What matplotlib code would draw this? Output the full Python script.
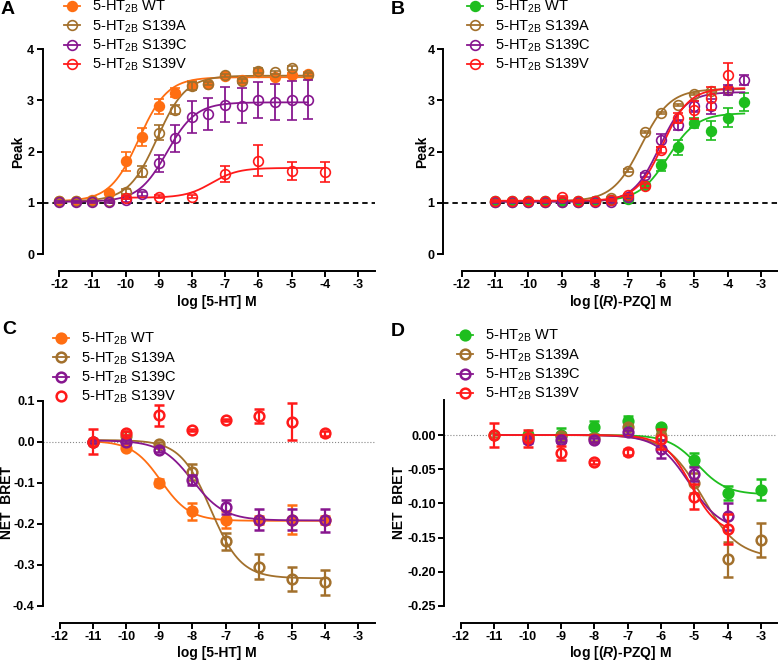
import numpy as np
import matplotlib
matplotlib.use('Agg')
import matplotlib.pyplot as plt
from matplotlib.lines import Line2D
from matplotlib.ticker import FormatStrFormatter

plt.rcParams['font.family'] = ['Liberation Sans', 'DejaVu Sans']
plt.rcParams['axes.unicode_minus'] = False
plt.rcParams['mathtext.fontset'] = 'custom'
plt.rcParams['mathtext.rm'] = 'Liberation Sans'
plt.rcParams['mathtext.it'] = 'Liberation Sans:italic:bold'
plt.rcParams['mathtext.default'] = 'regular'

ORANGE = '#FF6E12'
GREEN = '#1EBE1E'
BROWN = '#A2702C'
PURPLE = '#87168F'
RED = '#FF1A1A'

labels = [r'5-HT$_{2B}$ WT', r'5-HT$_{2B}$ S139A', r'5-HT$_{2B}$ S139C', r'5-HT$_{2B}$ S139V']

# ---------------- A : peak, 5-HT ----------------
a_x = [-12, -11.5, -11, -10.5, -10, -9.5, -9, -8.5, -8, -7.5, -7, -6.5, -6, -5.5, -5, -4.5]
a_wt = [1.04, 1.04, 1.06, 1.20, 1.81, 2.28, 2.88, 3.15, 3.30, 3.32, 3.47, 3.40, 3.55, 3.46, 3.50, 3.52]
a_wt_err = [0.02, 0.02, 0.02, 0.03, 0.18, 0.17, 0.15, 0.08, 0.08, 0.03, 0.03, 0.04, 0.05, 0.04, 0.03, 0.03]
a_s139a = [1.03, 1.03, 1.03, 1.03, 1.22, 1.61, 2.37, 2.82, 3.28, 3.32, 3.49, 3.38, 3.58, 3.55, 3.63, 3.50]
a_s139a_err = [0.02, 0.02, 0.02, 0.02, 0.04, 0.10, 0.15, 0.08, 0.08, 0.03, 0.03, 0.04, 0.04, 0.03, 0.03, 0.03]
a_s139c = [1.02, 1.02, 1.02, 1.02, 1.05, 1.17, 1.77, 2.26, 2.67, 2.73, 2.91, 2.89, 3.01, 2.96, 3.00, 3.01]
a_s139c_err = [0.02, 0.02, 0.02, 0.02, 0.03, 0.04, 0.17, 0.26, 0.31, 0.31, 0.34, 0.34, 0.35, 0.35, 0.38, 0.38]
a_v_x = [-10, -9, -8, -7, -6, -5, -4]
a_s139v = [1.10, 1.12, 1.12, 1.56, 1.82, 1.62, 1.60]
a_s139v_err = [0.03, 0.03, 0.03, 0.16, 0.30, 0.18, 0.20]
# fit params: start, end, logEC50, hill, x from, x to
a_fits = [(1.03, 3.45, -9.6, 1.0, -12, -4.5),
          (1.03, 3.48, -9.05, 1.0, -12, -4.5),
          (1.02, 2.96, -8.75, 1.0, -12, -4.5),
          (1.10, 1.68, -7.4, 1.1, -10, -4)]

# ---------------- B : peak, (R)-PZQ ----------------
b_x = [-11, -10.5, -10, -9.5, -9, -8.5, -8, -7.5, -7, -6.5, -6, -5.5, -5, -4.5, -4, -3.5]
b_wt = [1.03, 1.03, 1.03, 1.03, 1.03, 1.03, 1.04, 1.06, 1.08, 1.34, 1.73, 2.08, 2.56, 2.41, 2.66, 2.97]
b_wt_err = [0.02, 0.02, 0.02, 0.02, 0.02, 0.02, 0.02, 0.03, 0.03, 0.04, 0.10, 0.15, 0.10, 0.18, 0.18, 0.17]
b_a_x = [-11, -10.5, -10, -9.5, -9, -8.5, -8, -7.5, -7, -6.5, -6, -5.5, -5, -4.5, -4]
b_s139a = [1.02, 1.02, 1.02, 1.02, 1.02, 1.02, 1.03, 1.09, 1.63, 2.38, 2.76, 2.91, 3.12, 3.18, 3.22]
b_s139a_err = [0.02] * 15
b_s139c = [1.02, 1.02, 1.02, 1.02, 1.02, 1.02, 1.02, 1.01, 1.12, 1.54, 2.22, 2.52, 2.88, 2.88, 3.20, 3.39]
b_s139c_err = [0.02, 0.02, 0.02, 0.02, 0.02, 0.02, 0.02, 0.02, 0.03, 0.04, 0.13, 0.10, 0.10, 0.15, 0.10, 0.10]
b_v_x = [-11, -10.5, -10, -9.5, -9, -8.5, -8, -7.5, -7, -6.5, -6, -5.5, -5, -4.5, -4]
b_s139v = [1.03, 1.03, 1.03, 1.03, 1.12, 1.03, 1.04, 1.05, 1.15, 1.32, 2.03, 2.65, 2.81, 3.04, 3.49]
b_s139v_err = [0.02, 0.02, 0.02, 0.02, 0.02, 0.02, 0.02, 0.02, 0.03, 0.04, 0.05, 0.10, 0.18, 0.22, 0.23]
b_fits = [(1.03, 2.75, -5.8, 1.0, -11, -3.5),
          (1.03, 3.22, -6.6, 1.0, -11, -3.5),
          (1.02, 3.16, -6.05, 1.1, -11, -3.5),
          (1.04, 3.24, -5.95, 1.1, -11, -3.5)]

# ---------------- C : NET BRET, 5-HT ----------------
c_x = [-11, -10, -9, -8, -7, -6, -5, -4]
c_wt = [0.0, -0.015, -0.10, -0.17, -0.19, -0.19, -0.19, -0.19]
c_wt_err = [0.003, 0.004, 0.008, 0.02, 0.02, 0.01, 0.035, 0.01]
c_s139a = [0.0, 0.013, -0.005, -0.074, -0.243, -0.305, -0.335, -0.343]
c_s139a_err = [0.003, 0.004, 0.004, 0.02, 0.02, 0.03, 0.03, 0.03]
c_s139c = [0.0, 0.0, -0.02, -0.093, -0.16, -0.19, -0.19, -0.192]
c_s139c_err = [0.003, 0.004, 0.006, 0.012, 0.017, 0.025, 0.025, 0.028]
c_s139v = [0.0, 0.02, 0.064, 0.028, 0.053, 0.062, 0.049, 0.02]
c_s139v_err = [0.03, 0.005, 0.026, 0.003, 0.003, 0.017, 0.044, 0.007]
c_fits = [(0.002, -0.193, -8.95, 1.0, -11, -4),
          (0.004, -0.333, -7.45, 0.95, -11, -4),
          (0.003, -0.192, -8.0, 0.9, -11, -4),
          None]

# ---------------- D : NET BRET, (R)-PZQ ----------------
d_wt_x = [-10, -9, -8, -7, -6, -5, -4, -3]
d_wt = [0.0, 0.0, 0.011, 0.02, 0.011, -0.036, -0.085, -0.08]
d_wt_err = [0.003, 0.01, 0.01, 0.008, 0.003, 0.01, 0.01, 0.015]
d_a_x = [-11, -10, -9, -8, -7, -6, -5, -4, -3]
d_s139a = [0.0, -0.003, -0.002, -0.005, 0.012, -0.002, -0.07, -0.182, -0.154]
d_s139a_err = [0.003, 0.004, 0.004, 0.004, 0.004, 0.006, 0.015, 0.025, 0.025]
d_c_x = [-10, -9, -8, -7, -6, -5, -4]
d_s139c = [-0.008, -0.007, -0.007, 0.005, -0.021, -0.057, -0.119]
d_s139c_err = [0.003, 0.003, 0.003, 0.003, 0.013, 0.01, 0.02]
d_v_x = [-11, -10, -9, -8, -7, -6, -5, -4]
d_s139v = [0.0, -0.005, -0.026, -0.04, -0.025, -0.006, -0.09, -0.138]
d_s139v_err = [0.018, 0.013, 0.01, 0.003, 0.004, 0.015, 0.018, 0.022]
d_fits = [(0.0, -0.087, -4.9, 1.0, -11, -3),
          (0.0, -0.18, -4.76, 0.8, -11, -3),
          (0.0, -0.14, -5.15, 0.9, -11, -4),
          (0.0, -0.145, -5.1, 1.05, -11, -4)]

W, H = 778, 661
fig = plt.figure(figsize=(W / 100, H / 100), dpi=100)


def px_axes(left, right, bottom, top):
    # pixel box -> figure fraction
    return fig.add_axes([left / W, 1 - bottom / H, (right - left) / W, (bottom - top) / H])


def hill(p):
    y0, y1, ec, h, x0, x1 = p
    xs = np.linspace(x0, x1, 300)
    return xs, y0 + (y1 - y0) / (1 + 10 ** ((ec - xs) * h))


def style(ax, xlim, ylim, ybounds, yticks, yfmt, lw):
    ax.set_xlim(*xlim)
    ax.set_ylim(*ylim)
    for s in ['top', 'right']:
        ax.spines[s].set_visible(False)
    ax.spines['left'].set_bounds(*ybounds)
    ax.spines['bottom'].set_bounds(-12, xlim[1])
    for s in ['left', 'bottom']:
        ax.spines[s].set_linewidth(lw)
    ax.set_xticks(range(-12, -2))
    ax.set_yticks(np.round(yticks, 3) + 0.0)
    ax.xaxis.set_major_formatter(FormatStrFormatter('%d'))
    ax.yaxis.set_major_formatter(FormatStrFormatter(yfmt))
    ax.tick_params(direction='out', length=4, width=lw, pad=2, labelsize=9)
    for t in ax.get_xticklabels() + ax.get_yticklabels():
        t.set_fontweight('bold')


def draw(ax, series, fits, colors, ms, mew, elw):
    for i, (x, y, e) in enumerate(series):
        c = colors[i]
        mfc = c if i == 0 else 'none'
        ax.errorbar(x, y, yerr=e, fmt='o', color=c, mec=c, mfc=mfc, ms=ms, mew=mew,
                    elinewidth=elw, capsize=3.5, capthick=elw, zorder=3 + i)
        if fits[i] is not None:
            xs, ys = hill(fits[i])
            ax.plot(xs, ys, color=c, lw=1.3, zorder=2 + i)


def legend(colors, x, y, mew, nolines=()):
    hs = []
    for i, c in enumerate(colors):
        hs.append(Line2D([], [], color=c, marker='o', ms=7, mew=mew,
                         mfc=c if i == 0 else 'none',
                         ls='none' if i in nolines else '-', lw=1.3))
    fig.legend(hs, labels, loc='upper left', bbox_to_anchor=(x / W, 1 - y / H),
               frameon=False, fontsize=10.5, handlelength=1.1, handletextpad=0.8,
               labelspacing=0.2, borderpad=0, borderaxespad=0)


c_a = [ORANGE, BROWN, PURPLE, RED]
c_b = [GREEN, BROWN, PURPLE, RED]

# A
axA = px_axes(42.5, 374.5, 271, 28.5)
style(axA, (-12.5, -2.5), (-0.33, 4.4), (0, 4), range(0, 5), '%d', 1.4)
axA.axhline(1, color='black', lw=1.3, ls=(0, (3, 2.2)), zorder=1)
draw(axA, [(a_x, a_wt, a_wt_err), (a_x, a_s139a, a_s139a_err),
           (a_x, a_s139c, a_s139c_err), (a_v_x, a_s139v, a_s139v_err)],
     a_fits, c_a, 7, 1.2, 1.3)

# B
axB = px_axes(443, 777.5, 271, 28.5)
style(axB, (-12.57, -2.5), (-0.33, 4.4), (0, 4), range(0, 5), '%d', 1.4)
axB.axhline(1, color='black', lw=1.3, ls=(0, (3, 2.2)), zorder=1)
draw(axB, [(b_x, b_wt, b_wt_err), (b_a_x, b_s139a, b_s139a_err),
           (b_x, b_s139c, b_s139c_err), (b_v_x, b_s139v, b_s139v_err)],
     b_fits, c_b, 7, 1.2, 1.3)

# C
axC = px_axes(43, 374.6, 623, 376)
style(axC, (-12.51, -2.5), (-0.442, 0.16), (-0.4, 0.1), np.arange(-0.4, 0.11, 0.1), '%.1f', 1.4)
axC.axhline(0, color='#888888', lw=0.8, ls=':', zorder=1)
draw(axC, [(c_x, c_wt, c_wt_err), (c_x, c_s139a, c_s139a_err),
           (c_x, c_s139c, c_s139c_err), (c_x, c_s139v, c_s139v_err)],
     c_fits, c_a, 7, 1.8, 1.6)

# D
axD = px_axes(444, 777.5, 623, 394)
style(axD, (-12.51, -2.5), (-0.275, 0.06), (-0.25, 0.051), np.arange(-0.25, 0.001, 0.05), '%.2f', 1.4)
axD.axhline(0, color='#888888', lw=0.8, ls=':', zorder=1)
draw(axD, [(d_wt_x, d_wt, d_wt_err), (d_a_x, d_s139a, d_s139a_err),
           (d_c_x, d_s139c, d_s139c_err), (d_v_x, d_s139v, d_s139v_err)],
     d_fits, c_b, 7, 1.8, 1.6)

# legends
legend(c_a, 64, -1, 1.2)
legend(c_b, 467, -1, 1.2)
legend(c_a, 53, 331, 1.8, nolines=(3,))
legend(c_b, 457, 328, 1.8)

# axis titles
fig.text(18 / W, 1 - 152 / H, 'Peak', rotation=90, ha='center', va='center', fontsize=10, fontweight='bold')
fig.text(422 / W, 1 - 152 / H, 'Peak', rotation=90, ha='center', va='center', fontsize=10, fontweight='bold')
fig.text(7 / W, 1 - 503 / H, 'NET  BRET', rotation=90, ha='center', va='center', fontsize=10, fontweight='bold')
fig.text(399 / W, 1 - 503 / H, 'NET  BRET', rotation=90, ha='center', va='center', fontsize=10, fontweight='bold')
fig.text(217 / W, 1 - 302 / H, 'log [5-HT] M', ha='center', va='center', fontsize=10, fontweight='bold')
fig.text(620 / W, 1 - 302 / H, r'log [($\mathit{R}$)-PZQ] M', ha='center', va='center', fontsize=10, fontweight='bold')
fig.text(217 / W, 1 - 653 / H, 'log [5-HT] M', ha='center', va='center', fontsize=10, fontweight='bold')
fig.text(620 / W, 1 - 653 / H, r'log [($\mathit{R}$)-PZQ] M', ha='center', va='center', fontsize=10, fontweight='bold')

# panel letters
for lab, x, y in [('A', 8, 9), ('B', 398, 9), ('C', 9, 330), ('D', 398, 331)]:
    fig.text(x / W, 1 - y / H, lab, ha='center', va='center', fontsize=14, fontweight='bold')

fig.savefig('out.png', dpi=100)
